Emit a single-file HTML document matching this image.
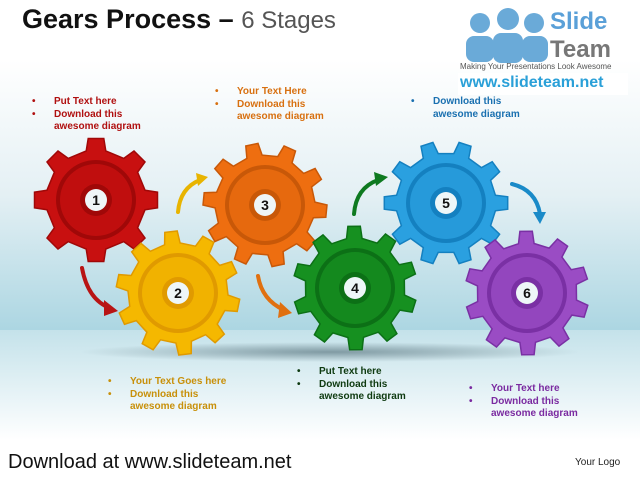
<!DOCTYPE html>
<html><head><meta charset="utf-8"><style>
body{margin:0;width:640px;height:480px;overflow:hidden;background:#fff;font-family:"Liberation Sans",sans-serif;position:relative}
.t{position:absolute;font-size:10px;font-weight:bold;line-height:12.5px}
.t div{position:relative;padding-left:22px}
.t div.b:before{content:"•";position:absolute;left:0}
</style></head><body>
<svg width="640" height="480" style="position:absolute;left:0;top:0">
<defs>
<linearGradient id="bg" x1="0" y1="0" x2="0" y2="1">
<stop offset="0" stop-color="#ffffff"/><stop offset="0.5" stop-color="#e4f0f4"/><stop offset="1" stop-color="#acd6e2"/></linearGradient>
<linearGradient id="fl" x1="0" y1="0" x2="0" y2="1">
<stop offset="0" stop-color="#c4e2ea"/><stop offset="1" stop-color="#ffffff"/></linearGradient>
<radialGradient id="sh"><stop offset="0" stop-color="#4a6670" stop-opacity=".6"/><stop offset="1" stop-color="#4a6670" stop-opacity="0"/></radialGradient>
</defs>
<rect x="0" y="60" width="640" height="270" fill="url(#bg)"/>
<rect x="0" y="330" width="640" height="110" fill="url(#fl)"/>
<ellipse cx="330" cy="352" rx="250" ry="10" fill="url(#sh)"/>
<g id="gears"></g>
<g fill="none" stroke-width="4" stroke-linecap="round">
<path d="M82 268 Q88 300 110 308" stroke="#b81414"/><polygon points="104,300 118,311 104,316" fill="#b81414"/>
<path d="M178 212 Q180 188 200 180" stroke="#e8b400"/><polygon points="196,173 208,177 198,186" fill="#e8b400"/>
<path d="M258 276 Q262 300 284 310" stroke="#e07010"/><polygon points="280,302 292,313 278,318" fill="#e07010"/>
<path d="M354 214 Q356 188 378 180" stroke="#0e7a20"/><polygon points="374,172 388,177 376,186" fill="#0e7a20"/>
<path d="M512 184 Q536 190 540 214" stroke="#1a8ac8"/><polygon points="533,212 546,212 540,224" fill="#1a8ac8"/>
</g>
</svg>
<div style="position:absolute;left:22px;top:4px;font-size:27px;font-weight:bold;color:#111">Gears Process <span>–</span> <span style="font-weight:normal;color:#555;font-size:24px">6 Stages</span></div>
<svg width="90" height="60" style="position:absolute;left:460px;top:6px">
<g fill="#6aaad8"><circle cx="20" cy="17" r="10"/><circle cx="48" cy="13" r="11"/><circle cx="74" cy="17" r="10"/>
<rect x="6" y="30" width="28" height="26" rx="8"/><rect x="33" y="27" width="30" height="30" rx="8"/><rect x="62" y="30" width="26" height="26" rx="8"/></g>
</svg>
<div style="position:absolute;left:550px;top:8px;font-size:24px;font-weight:bold;color:#5aa0d8">Slide</div>
<div style="position:absolute;left:550px;top:36px;font-size:24px;font-weight:bold;color:#777">Team</div>
<div style="position:absolute;left:460px;top:62px;font-size:8px;color:#555">Making Your Presentations Look Awesome</div>
<div style="position:absolute;left:458px;top:73px;width:170px;height:22px;background:#fff"></div>
<div style="position:absolute;left:460px;top:74px;font-size:16px;font-weight:bold;color:#2aa0d8">www.slideteam.net</div>
<div class="t" style="left:32px;top:96px;color:#b01010"><div class="b">Put Text here</div><div class="b">Download this</div><div>awesome diagram</div></div>
<div class="t" style="left:215px;top:86px;color:#d87010"><div class="b">Your Text Here</div><div class="b">Download this</div><div>awesome diagram</div></div>
<div class="t" style="left:411px;top:96px;color:#1a70b0"><div class="b">Download this</div><div>awesome diagram</div></div>
<div class="t" style="left:108px;top:376px;color:#c8900a"><div class="b">Your Text Goes here</div><div class="b">Download this</div><div>awesome diagram</div></div>
<div class="t" style="left:297px;top:366px;color:#0e3a10"><div class="b">Put Text here</div><div class="b">Download this</div><div>awesome diagram</div></div>
<div class="t" style="left:469px;top:383px;color:#7a2aa0"><div class="b">Your Text here</div><div class="b">Download this</div><div>awesome diagram</div></div>
<div style="position:absolute;left:8px;top:451px;font-size:20px;color:#111">Download at www.slideteam.net</div>
<div style="position:absolute;left:575px;top:457px;font-size:10px;color:#222">Your Logo</div>
<script>
var G=[[96,200,"#c81010","#a00808",8,"1",0],[178,293,"#f5b800","#e09a00",10,"2",0.2],[265,205,"#ee6e10","#c85808",10,"3",0.1],[355,288,"#169020","#0c7016",10,"4",0.3],[446,203,"#2aa0e0","#1480c0",10,"5",0],[527,293,"#9a4cc4","#7a30a4",10,"6",0.3]];
var s="";
G.forEach(function(g){var cx=g[0],cy=g[1],n=g[4],R=62,r=50,p="",a0=g[6];
for(var i=0;i<n;i++){var b=a0+i*2*Math.PI/n,w=Math.PI/n;
var pts=[[b-w*0.5,r],[b-w*0.32,R],[b+w*0.32,R],[b+w*0.5,r],[b+w*1.5,r]];
pts.forEach(function(q,j){var x=cx+q[1]*Math.cos(q[0]),y=cy+q[1]*Math.sin(q[0]);p+=(i==0&&j==0?"M":"L")+x.toFixed(1)+" "+y.toFixed(1)});}
p+="Z";
s+='<path d="'+p+'" fill="'+g[2]+'" stroke="'+g[3]+'" stroke-width="1.5"/>';
s+='<circle cx="'+cx+'" cy="'+cy+'" r="40" fill="'+g[3]+'"/>';
s+='<circle cx="'+cx+'" cy="'+cy+'" r="36" fill="'+g[2]+'" opacity=".8"/>';
s+='<circle cx="'+cx+'" cy="'+cy+'" r="16" fill="'+g[3]+'"/>';
s+='<circle cx="'+cx+'" cy="'+cy+'" r="11" fill="#eef6f8"/>';
s+='<text x="'+cx+'" y="'+(cy+5)+'" text-anchor="middle" font-family="Liberation Sans" font-weight="bold" font-size="14" fill="#111">'+g[5]+'</text>';});
document.getElementById("gears").innerHTML=s;
</script>
</body></html>
